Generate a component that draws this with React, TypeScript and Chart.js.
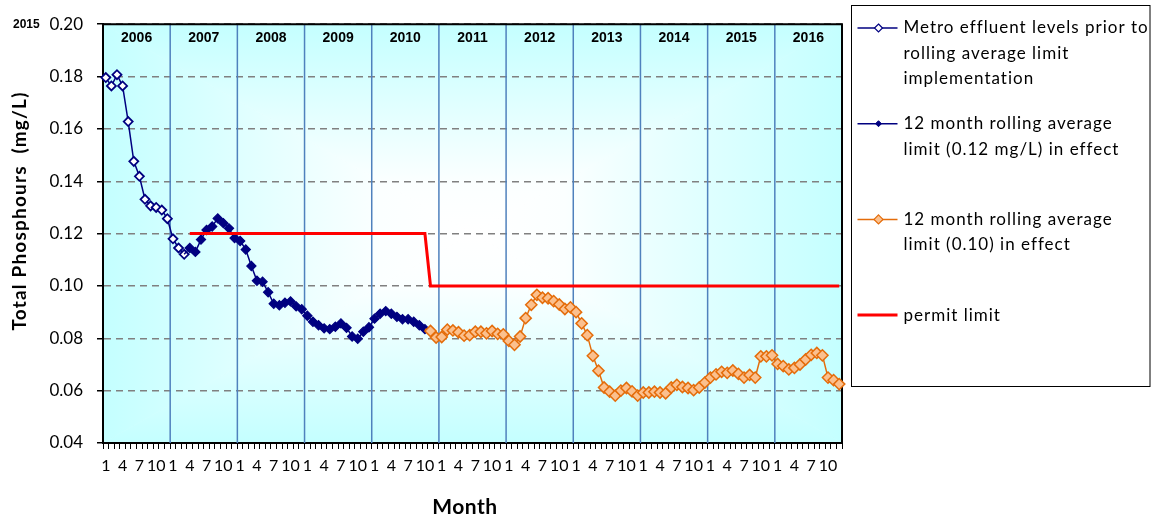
import React, { useEffect, useRef } from 'react';
import { Chart, registerables } from 'chart.js';

Chart.register(...registerables);

// ---------- data ----------
const years = ['2006', '2007', '2008', '2009', '2010', '2011', '2012', '2013', '2014', '2015', '2016'];
const months = ['1', '2', '3', '4', '5', '6', '7', '8', '9', '10', '11', '12'];
const labelledMonths = ['1', '4', '7', '10'];
const yMin = 0.04;
const yMax = 0.2;
const yStep = 0.02;
const cornerNote = '2015';

// Jan 2006 - Mar 2007
const metroPrior = [
  0.1796, 0.1764, 0.1807, 0.1764, 0.1628, 0.1476, 0.1419, 0.1331, 0.1306, 0.13,
  0.129, 0.1257, 0.118, 0.1145, 0.1121,
];
// Apr 2007 - Oct 2010
const rolling012 = [
  0.1145, 0.113, 0.1177, 0.1214, 0.1227, 0.1258, 0.124, 0.122, 0.1183, 0.1172,
  0.1139, 0.1076, 0.102, 0.1016, 0.0976, 0.0932, 0.0926, 0.0936, 0.0941, 0.0922,
  0.0911, 0.0886, 0.0863, 0.085, 0.0838, 0.0835, 0.0844, 0.0857, 0.084, 0.0807,
  0.0798, 0.0825, 0.0842, 0.0875, 0.0894, 0.0904, 0.0894, 0.0882, 0.0873, 0.0873,
  0.0863, 0.085, 0.0835,
];
// Nov 2010 - Dec 2016
const rolling010 = [
  0.0828, 0.0803, 0.0805, 0.0833, 0.083, 0.0823, 0.081, 0.0812, 0.0825, 0.0825,
  0.0819, 0.0828, 0.0817, 0.0815, 0.079, 0.0775, 0.0807, 0.0877, 0.0928, 0.0966,
  0.0955, 0.0953, 0.0942, 0.0929, 0.0912, 0.0918, 0.09, 0.0857, 0.0812, 0.0733,
  0.0676, 0.0612, 0.0596, 0.0581, 0.06, 0.061, 0.0597, 0.0581, 0.0593, 0.0593,
  0.0596, 0.0593, 0.059, 0.0612, 0.0622, 0.0614, 0.061, 0.0602, 0.0612, 0.0631,
  0.065, 0.0662, 0.0672, 0.0668, 0.0677, 0.0664, 0.065, 0.066, 0.065, 0.0731,
  0.0731, 0.0735, 0.0702, 0.0694, 0.0681, 0.0687, 0.07, 0.0719, 0.0737, 0.0744,
  0.0735, 0.065, 0.064, 0.0625,
];
// permit limit in force during the 0.12 phase and the 0.10 phase
const permitLimits = [0.12, 0.1];

const seriesLabels = [
  'Metro effluent levels prior to\nrolling average limit\nimplementation',
  '12 month rolling average\nlimit (0.12 mg/L) in effect',
  '12 month rolling average\nlimit (0.10) in effect',
  'permit limit',
];
const yTitle = 'Total Phosphours  (mg/L)';
const xTitle = 'Month';

// ---------- derived tables ----------
const labels = years.flatMap(() => months.map((m) => m));
const s1 = metroPrior.length;
const s2 = s1 + rolling012.length;
const metroData = labels.map((_, i) => (i < s1 ? metroPrior[i] : null));
const r12Data = labels.map((_, i) =>
  i === s1 - 1 ? metroPrior[s1 - 1] : i >= s1 && i < s2 ? rolling012[i - s1] : null
);
const r10Data = labels.map((_, i) =>
  i === s2 - 1 ? rolling012[rolling012.length - 1] : i >= s2 ? (rolling010[i - s2] ?? null) : null
);
const permitData = labels.map((_, i) =>
  i >= s1 && i < s2 ? permitLimits[0] : i >= s2 ? permitLimits[1] : null
);

const NAVY = '#000080';
const ORANGE = '#E46C0A';
const ORANGE_FILL = '#FBC08E';
const RED = '#FF0000';
const FONT = 'Lato, "Open Sans", sans-serif';

function diamond(ctx: any, x: number, y: number, r: number, fill: string, stroke: string, lw: number) {
  ctx.beginPath();
  ctx.moveTo(x, y - r);
  ctx.lineTo(x + r, y);
  ctx.lineTo(x, y + r);
  ctx.lineTo(x - r, y);
  ctx.closePath();
  ctx.fillStyle = fill;
  ctx.fill();
  ctx.lineWidth = lw;
  ctx.strokeStyle = stroke;
  ctx.stroke();
}

const backgroundPlugin = {
  id: 'pathGradient',
  beforeDraw(chart: any) {
    const { ctx, chartArea } = chart;
    const { left, top, right, bottom } = chartArea;
    const cx = (left + right) / 2;
    const cy = (top + bottom) / 2;
    const parts = [
      { pts: [[left, top], [right, top]], g: [cx, cy, cx, top] },
      { pts: [[right, top], [right, bottom]], g: [cx, cy, right, cy] },
      { pts: [[right, bottom], [left, bottom]], g: [cx, cy, cx, bottom] },
      { pts: [[left, bottom], [left, top]], g: [cx, cy, left, cy] },
    ];
    ctx.save();
    for (const p of parts) {
      const grad = ctx.createLinearGradient(p.g[0], p.g[1], p.g[2], p.g[3]);
      grad.addColorStop(0, '#FFFFFF');
      grad.addColorStop(0.25, '#FBFFFF');
      grad.addColorStop(1, '#C4FFFF');
      ctx.beginPath();
      ctx.moveTo(cx, cy);
      ctx.lineTo(p.pts[0][0], p.pts[0][1]);
      ctx.lineTo(p.pts[1][0], p.pts[1][1]);
      ctx.closePath();
      ctx.fillStyle = grad;
      ctx.fill();
      ctx.strokeStyle = grad;
      ctx.lineWidth = 0.8;
      ctx.stroke();
    }
    ctx.restore();
  },
};

const decorPlugin = {
  id: 'decor',
  beforeDatasetsDraw(chart: any) {
    const { ctx, chartArea, scales } = chart;
    const { left, top, right, bottom } = chartArea;
    const xs = scales.x;
    ctx.save();
    // year dividers
    ctx.strokeStyle = '#4F81BD';
    ctx.lineWidth = 1.5;
    for (let k = 1; k < years.length; k++) {
      const x = (xs.getPixelForValue(12 * k - 1) + xs.getPixelForValue(12 * k)) / 2;
      ctx.beginPath();
      ctx.moveTo(x, top);
      ctx.lineTo(x, bottom);
      ctx.stroke();
    }
    // frame
    ctx.strokeStyle = '#000';
    ctx.lineWidth = 2;
    ctx.beginPath();
    ctx.moveTo(left, bottom);
    ctx.lineTo(left, top);
    ctx.lineTo(right, top);
    ctx.lineTo(right, bottom);
    ctx.stroke();
    // year labels
    ctx.fillStyle = '#000';
    ctx.font = 'bold 14px "Liberation Sans", Arial, sans-serif';
    ctx.textAlign = 'center';
    ctx.textBaseline = 'middle';
    years.forEach((y, k) => {
      const x = (xs.getPixelForValue(12 * k) + xs.getPixelForValue(12 * k + 11)) / 2;
      ctx.fillText(y, x, top + 14);
    });
    ctx.restore();
  },
  afterDraw(chart: any) {
    const { ctx, chartArea } = chart;
    ctx.save();
    // stray corner note
    ctx.fillStyle = '#000';
    ctx.font = 'bold 12px "Liberation Sans", Arial, sans-serif';
    ctx.textAlign = 'left';
    ctx.textBaseline = 'middle';
    ctx.fillText(cornerNote, 13, 24.5);
    // axis titles
    ctx.textAlign = 'center';
    ctx.font = `bold 19px ${FONT}`;
    ctx.letterSpacing = '1.2px';
    ctx.save();
    ctx.translate(20, 211);
    ctx.rotate(-Math.PI / 2);
    ctx.fillText(yTitle, 0, 0);
    ctx.restore();
    ctx.font = `bold 21px ${FONT}`;
    ctx.letterSpacing = '0.5px';
    ctx.fillText(xTitle, 465, 507);
    // legend
    const bx = chartArea.right + 9.5;
    ctx.strokeStyle = '#000';
    ctx.lineWidth = 1;
    ctx.strokeRect(bx, 5.5, 1150 - bx, 381);
    ctx.font = `17px ${FONT}`;
    ctx.letterSpacing = '1px';
    ctx.textAlign = 'left';
    chart.data.datasets.forEach((ds: any, i: number) => {
      const y0 = 28 + 95.7 * i;
      ctx.strokeStyle = ds.borderColor;
      ctx.lineWidth = ds.borderWidth;
      ctx.beginPath();
      ctx.moveTo(bx + 6, y0);
      ctx.lineTo(bx + 46, y0);
      ctx.stroke();
      if (ds.legendMarker) {
        const m = ds.legendMarker;
        diamond(ctx, bx + 27, y0, m.r, m.fill, m.stroke, m.lw);
      }
      ctx.fillStyle = '#000';
      String(ds.label)
        .split('\n')
        .forEach((line: string, k: number) => ctx.fillText(line, bx + 52, y0 + k * 25.5));
    });
    ctx.letterSpacing = '0px';
    ctx.restore();
  },
};

export default function App() {
  const ref = useRef<HTMLCanvasElement | null>(null);
  useEffect(() => {
    if (!ref.current) return;
    const chart = new Chart(ref.current, {
      type: 'line',
      data: {
        labels,
        datasets: [
          {
            label: seriesLabels[0],
            data: metroData,
            borderColor: NAVY,
            borderWidth: 1.5,
            pointStyle: 'rectRot',
            pointRadius: 4.5,
            pointBackgroundColor: '#FFFFFF',
            pointBorderColor: NAVY,
            pointBorderWidth: 1.8,
            tension: 0,
            clip: false,
            order: 4,
            legendMarker: { r: 4, fill: '#FFFFFF', stroke: NAVY, lw: 1.2 },
          },
          {
            label: seriesLabels[1],
            data: r12Data,
            borderColor: NAVY,
            borderWidth: 1.5,
            pointStyle: 'rectRot',
            pointRadius: (c: any) => (c.dataIndex === s1 - 1 ? 0 : 4.6),
            pointBackgroundColor: NAVY,
            pointBorderColor: NAVY,
            pointBorderWidth: 1.2,
            tension: 0,
            clip: false,
            order: 3,
            legendMarker: { r: 3, fill: NAVY, stroke: NAVY, lw: 1 },
          },
          {
            label: seriesLabels[2],
            data: r10Data,
            borderColor: ORANGE,
            borderWidth: 1.5,
            pointStyle: 'rectRot',
            pointRadius: (c: any) => (c.dataIndex === s2 - 1 ? 0 : 5.6),
            pointBackgroundColor: ORANGE_FILL,
            pointBorderColor: ORANGE,
            pointBorderWidth: 1.5,
            tension: 0,
            clip: false,
            order: 2,
            legendMarker: { r: 4.5, fill: ORANGE_FILL, stroke: ORANGE, lw: 1.2 },
          },
          {
            label: seriesLabels[3],
            data: permitData,
            borderColor: RED,
            borderWidth: 3,
            pointRadius: 0,
            tension: 0,
            clip: false,
            order: 1,
          },
        ] as any,
      },
      options: {
        animation: false,
        responsive: true,
        maintainAspectRatio: false,
        layout: { padding: { top: 18, right: 309, left: 0, bottom: 0 } },
        plugins: { legend: { display: false }, tooltip: { enabled: false } },
        scales: {
          x: {
            type: 'category',
            offset: true,
            grid: {
              offset: true,
              drawOnChartArea: false,
              drawTicks: true,
              tickLength: 6,
              tickColor: '#000',
              tickWidth: 1,
            },
            border: { display: true, color: '#000', width: 2 },
            ticks: {
              autoSkip: false,
              maxRotation: 0,
              minRotation: 0,
              padding: 7,
              color: '#000',
              font: { family: FONT, size: 16 },
              callback: (_v: any, i: number) =>
                labelledMonths.includes(labels[i]) ? labels[i] : '',
            },
            afterFit: (s: any) => {
              s.height = 75;
            },
          },
          y: {
            min: yMin,
            max: yMax,
            grid: {
              color: '#808080',
              lineWidth: 1.5,
              drawTicks: true,
              tickLength: 6,
              tickColor: '#000',
              tickWidth: 1.5,
            },
            border: { display: true, color: '#000', width: 2, dash: [7, 5] },
            ticks: {
              stepSize: yStep,
              padding: 14,
              color: '#000',
              font: { family: FONT, size: 17 },
              callback: (v: any) => Number(v).toFixed(2),
            },
            afterFit: (s: any) => {
              s.width = 103;
            },
          },
        },
      } as any,
      plugins: [backgroundPlugin, decorPlugin],
    });
    return () => chart.destroy();
  }, []);
  return (
    <div style={{ position: 'absolute', left: 0, top: 0, width: 1151, height: 518 }}>
      <canvas ref={ref} />
    </div>
  );
}
